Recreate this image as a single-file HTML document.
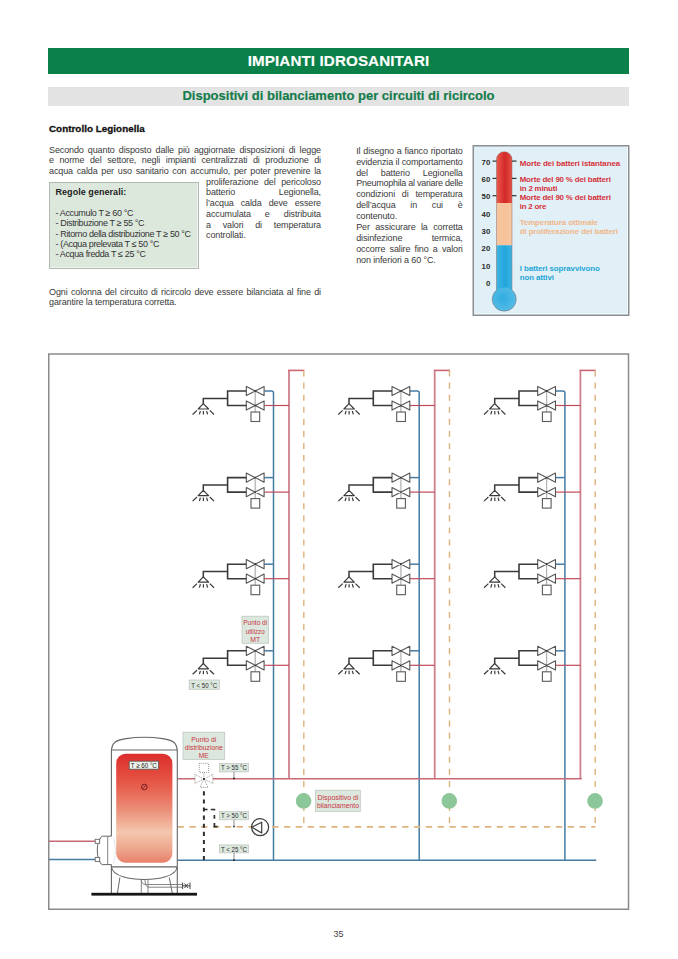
<!DOCTYPE html>
<html><head><meta charset="utf-8">
<style>
html,body{margin:0;padding:0;background:#fff;}
body{width:678px;height:959px;position:relative;overflow:hidden;font-family:"Liberation Sans",sans-serif;}
.a{position:absolute;white-space:nowrap;}
.bar1{position:absolute;left:48px;top:48px;width:581px;height:26px;background:#0b8048;}
.bar2{position:absolute;left:48px;top:87px;width:581px;height:19px;background:#e3e3e3;}
.t1{position:absolute;left:48px;width:581px;top:48px;height:26px;line-height:26px;text-align:center;color:#fff;font-weight:bold;font-size:15.2px;letter-spacing:0.1px;-webkit-text-stroke:0.15px #fff;}
.t2{position:absolute;left:48px;width:581px;top:85.8px;height:19px;line-height:19px;text-align:center;color:#157c4c;font-weight:bold;font-size:13px;-webkit-text-stroke:0.2px #157c4c;}
.body{font-size:9px;letter-spacing:-0.12px;color:#3a3a3a;line-height:9px;}
.j{text-align:justify;text-align-last:justify;}
.fut{font-size:9px;letter-spacing:-0.36px;color:#333;line-height:9px;}
</style></head>
<body>
<div class="bar1"></div>
<div class="bar2"></div>
<div class="t1">IMPIANTI IDROSANITARI</div>
<div class="t2">Dispositivi di bilanciamento per circuiti di ricircolo</div>

<div class="a" style="left:49px;top:124.3px;font-size:9.8px;font-weight:bold;color:#111;line-height:9.8px;-webkit-text-stroke:0.3px #111;letter-spacing:0.05px;">Controllo Legionella</div>

<div class="a body j" style="left:49px;top:145.6px;width:272px;">Secondo quanto disposto dalle più aggiornate disposizioni di legge</div>
<div class="a body j" style="left:49px;top:156.3px;width:272px;">e norme del settore, negli impianti centralizzati di produzione di</div>
<div class="a body j" style="left:49px;top:167.0px;width:272px;">acqua calda per uso sanitario con accumulo, per poter prevenire la</div>
<div class="a body j" style="left:206px;top:177.7px;width:115px;">proliferazione del pericoloso</div>
<div class="a body j" style="left:206px;top:188.4px;width:115px;">batterio Legionella,</div>
<div class="a body j" style="left:206px;top:199.1px;width:115px;">l’acqua calda deve essere</div>
<div class="a body j" style="left:206px;top:209.8px;width:115px;">accumulata e distribuita</div>
<div class="a body j" style="left:206px;top:220.5px;width:115px;">a valori di temperatura</div>
<div class="a body" style="left:206px;top:231.2px;">controllati.</div>
<div class="a body j" style="left:49px;top:287.5px;width:272px;">Ogni colonna del circuito di ricircolo deve essere bilanciata al fine di</div>
<div class="a body" style="left:49px;top:298.2px;">garantire la temperatura corretta.</div>
<div class="a body j" style="left:356.2px;top:146.8px;width:106.5px;">Il disegno a fianco riportato</div>
<div class="a body j" style="left:356.2px;top:157.7px;width:106.5px;">evidenzia il comportamento</div>
<div class="a body j" style="left:356.2px;top:168.5px;width:106.5px;">del batterio Legionella</div>
<div class="a body j" style="left:356.2px;top:179.4px;width:106.5px;letter-spacing:-0.25px;">Pneumophila al variare delle</div>
<div class="a body j" style="left:356.2px;top:190.3px;width:106.5px;">condizioni di temperatura</div>
<div class="a body j" style="left:356.2px;top:201.1px;width:106.5px;">dell’acqua in cui è</div>
<div class="a body" style="left:356.2px;top:212.0px;">contenuto.</div>
<div class="a body j" style="left:356.2px;top:222.9px;width:106.5px;">Per assicurare la corretta</div>
<div class="a body j" style="left:356.2px;top:233.8px;width:106.5px;">disinfezione termica,</div>
<div class="a body j" style="left:356.2px;top:244.6px;width:106.5px;">occorre salire fino a valori</div>
<div class="a body" style="left:356.2px;top:255.5px;">non inferiori a 60 °C.</div>


<div class="a" style="left:49px;top:182px;width:148px;height:85px;background:#dde8dd;border:1px solid #b3b8b3;box-shadow:inset -1px -1px 0 #eef3ee;"></div>
<div class="a" style="left:55.5px;top:188.4px;font-size:9px;font-weight:bold;color:#222;line-height:9px;letter-spacing:0.05px;">Regole generali:</div>
<div class="a fut" style="left:55.5px;top:209px;">- Accumulo T ≥ 60 °C</div>
<div class="a fut" style="left:55.5px;top:218.9px;">- Distribuzione T ≥ 55 °C</div>
<div class="a fut" style="left:55.5px;top:229.6px;">- Ritorno della distribuzione T ≥ 50 °C</div>
<div class="a fut" style="left:55.5px;top:240px;">- (Acqua prelevata T ≤ 50 °C</div>
<div class="a fut" style="left:55.5px;top:250.4px;">- Acqua fredda T ≤ 25 °C</div>

<svg class="a" style="left:0;top:0;" width="678" height="959" viewBox="0 0 678 959">
<defs>
<linearGradient id="gR" x1="0" x2="1" y1="0" y2="0"><stop offset="0" stop-color="#f08872"/><stop offset="0.22" stop-color="#e85a4a"/><stop offset="0.5" stop-color="#d42828"/><stop offset="0.78" stop-color="#e65a4a"/><stop offset="1" stop-color="#f08a76"/></linearGradient>
<linearGradient id="gP" x1="0" x2="1" y1="0" y2="0"><stop offset="0" stop-color="#f7c9a3"/><stop offset="0.5" stop-color="#f6c29a"/><stop offset="1" stop-color="#f8cfaa"/></linearGradient>
<linearGradient id="gB" x1="0" x2="1" y1="0" y2="0"><stop offset="0" stop-color="#58c0e6"/><stop offset="0.5" stop-color="#22a6dc"/><stop offset="1" stop-color="#5cc2e8"/></linearGradient>
<radialGradient id="gBulb" cx="0.45" cy="0.45" r="0.6"><stop offset="0" stop-color="#30ace0"/><stop offset="1" stop-color="#58bde6"/></radialGradient>
<clipPath id="tube"><path d="M496.5 159.5 A7.75 7.75 0 0 1 512 159.5 L512 290 A12 12 0 1 1 496.5 290 Z"/></clipPath>
</defs>
<rect x="473.25" y="145.75" width="155.5" height="169.5" fill="#e1f0f6" stroke="#8c8f92" stroke-width="1.5"/><path d="M474.5 313.6 H627.4 V147" fill="none" stroke="#f4fafc" stroke-width="0.9"/>
<g clip-path="url(#tube)">
<rect x="490" y="150" width="30" height="53" fill="url(#gR)"/>
<rect x="490" y="203" width="30" height="42.3" fill="url(#gP)"/>
<rect x="490" y="245.3" width="30" height="70" fill="url(#gB)"/>
<circle cx="504.25" cy="299.5" r="12" fill="url(#gBulb)"/>
</g>
<path d="M496.5 159.5 A7.75 7.75 0 0 1 512 159.5 L512 290 A12 12 0 1 1 496.5 290 Z" fill="none" stroke="#8a6a6a" stroke-width="0.7" opacity="0.7"/>
<g stroke="#333" stroke-width="1.2">
<line x1="492.5" y1="161.1" x2="496.5" y2="161.1"/><line x1="512" y1="161.1" x2="516.5" y2="161.1"/>
<line x1="492.5" y1="178.4" x2="496.5" y2="178.4"/><line x1="512" y1="178.4" x2="516.5" y2="178.4"/>
<line x1="492.5" y1="195.7" x2="496.5" y2="195.7"/><line x1="512" y1="195.7" x2="516.5" y2="195.7"/>
</g>
<g font-family="Liberation Sans" font-weight="bold" font-size="7.8" fill="#2a2a2a" text-anchor="end">
<text x="490.3" y="164.8">70</text><text x="490.3" y="182.1">60</text><text x="490.3" y="199.4">50</text>
<text x="490.3" y="216.7">40</text><text x="490.3" y="234.0">30</text><text x="490.3" y="251.4">20</text>
<text x="490.3" y="268.7">10</text><text x="490.3" y="286.0">0</text>
</g>
<g font-family="Liberation Sans" font-weight="bold" font-size="7.9">
<text x="519.7" y="165.6" fill="#d5303a" textLength="100.4" lengthAdjust="spacing">Morte dei batteri istantanea</text>
<text x="519.7" y="181.9" fill="#d5303a" textLength="91.2" lengthAdjust="spacing">Morte del 90 % dei batteri</text>
<text x="519.7" y="190.5" fill="#d5303a" textLength="37.7" lengthAdjust="spacing">in 2 minuti</text>
<text x="519.7" y="199.9" fill="#d5303a" textLength="91.2" lengthAdjust="spacing">Morte del 90 % dei batteri</text>
<text x="519.7" y="208.9" fill="#d5303a" textLength="26.6" lengthAdjust="spacing">in 2 ore</text>
<text x="519.7" y="225" fill="#f0b68a" textLength="78.3" lengthAdjust="spacing">Temperatura ottimale</text>
<text x="519.7" y="234.4" fill="#f0b68a" textLength="98.3" lengthAdjust="spacing">di proliferazione dei batteri</text>
<text x="519.7" y="270.7" fill="#25a6d6" textLength="80.2" lengthAdjust="spacing">I batteri sopravvivono</text>
<text x="519.7" y="279.6" fill="#25a6d6" textLength="34.2" lengthAdjust="spacing">non attivi</text>
</g>
<!--DIAGRAM-->
<rect x="48.75" y="354" width="579.75" height="555.25" fill="none" stroke="#8a8a8a" stroke-width="1.5"/>
<path d="M289.0 778.8 V370.4" fill="none" stroke="#d0808c" stroke-width="1.8"/>
<path d="M288.1 370.4 H304.3" fill="none" stroke="#c96874" stroke-width="1.6"/>
<path d="M303.8 370.5 V826.6" fill="none" stroke="#e0b47e" stroke-width="1.45" stroke-dasharray="6.1 5.97"/>
<path d="M264.3 391.0 H271.5 Q273.5 391 273.5 393 V860.2" transform="translate(0.0,0)" fill="none" stroke="#467ca4" stroke-width="1.5"/>
<g transform="translate(0.00,0.00)"><path d="M264.3 405.5 H289" stroke="#c04a5a" stroke-width="1.2"/><path d="M246.3 386.4 V395.6 L264.1 386.4 V395.6 Z M246.3 400.9 V410.1 L264.1 400.9 V410.1 Z" fill="#fff" stroke="#555" stroke-width="1.1" stroke-linejoin="round"/><path d="M255.2 391 V412" stroke="#b4b4b4" stroke-width="1.3"/><circle cx="255.2" cy="391" r="0.9" fill="#333"/><circle cx="255.2" cy="405.5" r="0.9" fill="#333"/><rect x="251" y="412" width="8.7" height="9.5" fill="#fff" stroke="#5a5a5a" stroke-width="1.1"/><path d="M246.3 391 H227.6 V405.5 H246.3" fill="none" stroke="#3a3a3a" stroke-width="1.6"/><path d="M227.6 398.4 H203.3 V403.7" fill="none" stroke="#3a3a3a" stroke-width="1.5"/><path d="M203.3 403.7 L198.2 409 H208.6 Z" fill="none" stroke="#3a3a3a" stroke-width="1.2" stroke-linejoin="round"/><path d="M197 410.4 L192.6 414.5 M209.8 410.4 L214 414.5 M200.4 411 L199.4 414.4 M203.4 411 V414.4 M206.6 411 L207.6 414.4" stroke="#3a3a3a" stroke-width="1.2"/></g>
<g transform="translate(0.00,86.60)"><path d="M264.3 391 H273.5" stroke="#467ca4" stroke-width="1.5"/><path d="M264.3 405.5 H289" stroke="#c04a5a" stroke-width="1.2"/><path d="M246.3 386.4 V395.6 L264.1 386.4 V395.6 Z M246.3 400.9 V410.1 L264.1 400.9 V410.1 Z" fill="#fff" stroke="#555" stroke-width="1.1" stroke-linejoin="round"/><path d="M255.2 391 V412" stroke="#b4b4b4" stroke-width="1.3"/><circle cx="255.2" cy="391" r="0.9" fill="#333"/><circle cx="255.2" cy="405.5" r="0.9" fill="#333"/><rect x="251" y="412" width="8.7" height="9.5" fill="#fff" stroke="#5a5a5a" stroke-width="1.1"/><path d="M246.3 391 H227.6 V405.5 H246.3" fill="none" stroke="#3a3a3a" stroke-width="1.6"/><path d="M227.6 398.4 H203.3 V403.7" fill="none" stroke="#3a3a3a" stroke-width="1.5"/><path d="M203.3 403.7 L198.2 409 H208.6 Z" fill="none" stroke="#3a3a3a" stroke-width="1.2" stroke-linejoin="round"/><path d="M197 410.4 L192.6 414.5 M209.8 410.4 L214 414.5 M200.4 411 L199.4 414.4 M203.4 411 V414.4 M206.6 411 L207.6 414.4" stroke="#3a3a3a" stroke-width="1.2"/></g>
<g transform="translate(0.00,173.20)"><path d="M264.3 391 H273.5" stroke="#467ca4" stroke-width="1.5"/><path d="M264.3 405.5 H289" stroke="#c04a5a" stroke-width="1.2"/><path d="M246.3 386.4 V395.6 L264.1 386.4 V395.6 Z M246.3 400.9 V410.1 L264.1 400.9 V410.1 Z" fill="#fff" stroke="#555" stroke-width="1.1" stroke-linejoin="round"/><path d="M255.2 391 V412" stroke="#b4b4b4" stroke-width="1.3"/><circle cx="255.2" cy="391" r="0.9" fill="#333"/><circle cx="255.2" cy="405.5" r="0.9" fill="#333"/><rect x="251" y="412" width="8.7" height="9.5" fill="#fff" stroke="#5a5a5a" stroke-width="1.1"/><path d="M246.3 391 H227.6 V405.5 H246.3" fill="none" stroke="#3a3a3a" stroke-width="1.6"/><path d="M227.6 398.4 H203.3 V403.7" fill="none" stroke="#3a3a3a" stroke-width="1.5"/><path d="M203.3 403.7 L198.2 409 H208.6 Z" fill="none" stroke="#3a3a3a" stroke-width="1.2" stroke-linejoin="round"/><path d="M197 410.4 L192.6 414.5 M209.8 410.4 L214 414.5 M200.4 411 L199.4 414.4 M203.4 411 V414.4 M206.6 411 L207.6 414.4" stroke="#3a3a3a" stroke-width="1.2"/></g>
<g transform="translate(0.00,259.80)"><path d="M264.3 391 H273.5" stroke="#467ca4" stroke-width="1.5"/><path d="M264.3 405.5 H289" stroke="#c04a5a" stroke-width="1.2"/><path d="M246.3 386.4 V395.6 L264.1 386.4 V395.6 Z M246.3 400.9 V410.1 L264.1 400.9 V410.1 Z" fill="#fff" stroke="#555" stroke-width="1.1" stroke-linejoin="round"/><path d="M255.2 391 V412" stroke="#b4b4b4" stroke-width="1.3"/><circle cx="255.2" cy="391" r="0.9" fill="#333"/><circle cx="255.2" cy="405.5" r="0.9" fill="#333"/><rect x="251" y="412" width="8.7" height="9.5" fill="#fff" stroke="#5a5a5a" stroke-width="1.1"/><path d="M246.3 391 H227.6 V405.5 H246.3" fill="none" stroke="#3a3a3a" stroke-width="1.6"/><path d="M227.6 398.4 H203.3 V403.7" fill="none" stroke="#3a3a3a" stroke-width="1.5"/><path d="M203.3 403.7 L198.2 409 H208.6 Z" fill="none" stroke="#3a3a3a" stroke-width="1.2" stroke-linejoin="round"/><path d="M197 410.4 L192.6 414.5 M209.8 410.4 L214 414.5 M200.4 411 L199.4 414.4 M203.4 411 V414.4 M206.6 411 L207.6 414.4" stroke="#3a3a3a" stroke-width="1.2"/></g>
<path d="M434.7 778.8 V370.4" fill="none" stroke="#d0808c" stroke-width="1.8"/>
<path d="M433.8 370.4 H450.0" fill="none" stroke="#c96874" stroke-width="1.6"/>
<path d="M449.5 370.5 V826.6" fill="none" stroke="#e0b47e" stroke-width="1.45" stroke-dasharray="6.1 5.97"/>
<path d="M264.3 391.0 H271.5 Q273.5 391 273.5 393 V860.2" transform="translate(145.7,0)" fill="none" stroke="#467ca4" stroke-width="1.5"/>
<g transform="translate(145.70,0.00)"><path d="M264.3 405.5 H289" stroke="#c04a5a" stroke-width="1.2"/><path d="M246.3 386.4 V395.6 L264.1 386.4 V395.6 Z M246.3 400.9 V410.1 L264.1 400.9 V410.1 Z" fill="#fff" stroke="#555" stroke-width="1.1" stroke-linejoin="round"/><path d="M255.2 391 V412" stroke="#b4b4b4" stroke-width="1.3"/><circle cx="255.2" cy="391" r="0.9" fill="#333"/><circle cx="255.2" cy="405.5" r="0.9" fill="#333"/><rect x="251" y="412" width="8.7" height="9.5" fill="#fff" stroke="#5a5a5a" stroke-width="1.1"/><path d="M246.3 391 H227.6 V405.5 H246.3" fill="none" stroke="#3a3a3a" stroke-width="1.6"/><path d="M227.6 398.4 H203.3 V403.7" fill="none" stroke="#3a3a3a" stroke-width="1.5"/><path d="M203.3 403.7 L198.2 409 H208.6 Z" fill="none" stroke="#3a3a3a" stroke-width="1.2" stroke-linejoin="round"/><path d="M197 410.4 L192.6 414.5 M209.8 410.4 L214 414.5 M200.4 411 L199.4 414.4 M203.4 411 V414.4 M206.6 411 L207.6 414.4" stroke="#3a3a3a" stroke-width="1.2"/></g>
<g transform="translate(145.70,86.60)"><path d="M264.3 391 H273.5" stroke="#467ca4" stroke-width="1.5"/><path d="M264.3 405.5 H289" stroke="#c04a5a" stroke-width="1.2"/><path d="M246.3 386.4 V395.6 L264.1 386.4 V395.6 Z M246.3 400.9 V410.1 L264.1 400.9 V410.1 Z" fill="#fff" stroke="#555" stroke-width="1.1" stroke-linejoin="round"/><path d="M255.2 391 V412" stroke="#b4b4b4" stroke-width="1.3"/><circle cx="255.2" cy="391" r="0.9" fill="#333"/><circle cx="255.2" cy="405.5" r="0.9" fill="#333"/><rect x="251" y="412" width="8.7" height="9.5" fill="#fff" stroke="#5a5a5a" stroke-width="1.1"/><path d="M246.3 391 H227.6 V405.5 H246.3" fill="none" stroke="#3a3a3a" stroke-width="1.6"/><path d="M227.6 398.4 H203.3 V403.7" fill="none" stroke="#3a3a3a" stroke-width="1.5"/><path d="M203.3 403.7 L198.2 409 H208.6 Z" fill="none" stroke="#3a3a3a" stroke-width="1.2" stroke-linejoin="round"/><path d="M197 410.4 L192.6 414.5 M209.8 410.4 L214 414.5 M200.4 411 L199.4 414.4 M203.4 411 V414.4 M206.6 411 L207.6 414.4" stroke="#3a3a3a" stroke-width="1.2"/></g>
<g transform="translate(145.70,173.20)"><path d="M264.3 391 H273.5" stroke="#467ca4" stroke-width="1.5"/><path d="M264.3 405.5 H289" stroke="#c04a5a" stroke-width="1.2"/><path d="M246.3 386.4 V395.6 L264.1 386.4 V395.6 Z M246.3 400.9 V410.1 L264.1 400.9 V410.1 Z" fill="#fff" stroke="#555" stroke-width="1.1" stroke-linejoin="round"/><path d="M255.2 391 V412" stroke="#b4b4b4" stroke-width="1.3"/><circle cx="255.2" cy="391" r="0.9" fill="#333"/><circle cx="255.2" cy="405.5" r="0.9" fill="#333"/><rect x="251" y="412" width="8.7" height="9.5" fill="#fff" stroke="#5a5a5a" stroke-width="1.1"/><path d="M246.3 391 H227.6 V405.5 H246.3" fill="none" stroke="#3a3a3a" stroke-width="1.6"/><path d="M227.6 398.4 H203.3 V403.7" fill="none" stroke="#3a3a3a" stroke-width="1.5"/><path d="M203.3 403.7 L198.2 409 H208.6 Z" fill="none" stroke="#3a3a3a" stroke-width="1.2" stroke-linejoin="round"/><path d="M197 410.4 L192.6 414.5 M209.8 410.4 L214 414.5 M200.4 411 L199.4 414.4 M203.4 411 V414.4 M206.6 411 L207.6 414.4" stroke="#3a3a3a" stroke-width="1.2"/></g>
<g transform="translate(145.70,259.80)"><path d="M264.3 391 H273.5" stroke="#467ca4" stroke-width="1.5"/><path d="M264.3 405.5 H289" stroke="#c04a5a" stroke-width="1.2"/><path d="M246.3 386.4 V395.6 L264.1 386.4 V395.6 Z M246.3 400.9 V410.1 L264.1 400.9 V410.1 Z" fill="#fff" stroke="#555" stroke-width="1.1" stroke-linejoin="round"/><path d="M255.2 391 V412" stroke="#b4b4b4" stroke-width="1.3"/><circle cx="255.2" cy="391" r="0.9" fill="#333"/><circle cx="255.2" cy="405.5" r="0.9" fill="#333"/><rect x="251" y="412" width="8.7" height="9.5" fill="#fff" stroke="#5a5a5a" stroke-width="1.1"/><path d="M246.3 391 H227.6 V405.5 H246.3" fill="none" stroke="#3a3a3a" stroke-width="1.6"/><path d="M227.6 398.4 H203.3 V403.7" fill="none" stroke="#3a3a3a" stroke-width="1.5"/><path d="M203.3 403.7 L198.2 409 H208.6 Z" fill="none" stroke="#3a3a3a" stroke-width="1.2" stroke-linejoin="round"/><path d="M197 410.4 L192.6 414.5 M209.8 410.4 L214 414.5 M200.4 411 L199.4 414.4 M203.4 411 V414.4 M206.6 411 L207.6 414.4" stroke="#3a3a3a" stroke-width="1.2"/></g>
<path d="M580.4 778.8 V370.4" fill="none" stroke="#d0808c" stroke-width="1.8"/>
<path d="M579.5 370.4 H595.7" fill="none" stroke="#c96874" stroke-width="1.6"/>
<path d="M595.2 370.5 V826.6" fill="none" stroke="#e0b47e" stroke-width="1.45" stroke-dasharray="6.1 5.97"/>
<path d="M264.3 391.0 H271.5 Q273.5 391 273.5 393 V860.2" transform="translate(291.4,0)" fill="none" stroke="#467ca4" stroke-width="1.5"/>
<g transform="translate(291.40,0.00)"><path d="M264.3 405.5 H289" stroke="#c04a5a" stroke-width="1.2"/><path d="M246.3 386.4 V395.6 L264.1 386.4 V395.6 Z M246.3 400.9 V410.1 L264.1 400.9 V410.1 Z" fill="#fff" stroke="#555" stroke-width="1.1" stroke-linejoin="round"/><path d="M255.2 391 V412" stroke="#b4b4b4" stroke-width="1.3"/><circle cx="255.2" cy="391" r="0.9" fill="#333"/><circle cx="255.2" cy="405.5" r="0.9" fill="#333"/><rect x="251" y="412" width="8.7" height="9.5" fill="#fff" stroke="#5a5a5a" stroke-width="1.1"/><path d="M246.3 391 H227.6 V405.5 H246.3" fill="none" stroke="#3a3a3a" stroke-width="1.6"/><path d="M227.6 398.4 H203.3 V403.7" fill="none" stroke="#3a3a3a" stroke-width="1.5"/><path d="M203.3 403.7 L198.2 409 H208.6 Z" fill="none" stroke="#3a3a3a" stroke-width="1.2" stroke-linejoin="round"/><path d="M197 410.4 L192.6 414.5 M209.8 410.4 L214 414.5 M200.4 411 L199.4 414.4 M203.4 411 V414.4 M206.6 411 L207.6 414.4" stroke="#3a3a3a" stroke-width="1.2"/></g>
<g transform="translate(291.40,86.60)"><path d="M264.3 391 H273.5" stroke="#467ca4" stroke-width="1.5"/><path d="M264.3 405.5 H289" stroke="#c04a5a" stroke-width="1.2"/><path d="M246.3 386.4 V395.6 L264.1 386.4 V395.6 Z M246.3 400.9 V410.1 L264.1 400.9 V410.1 Z" fill="#fff" stroke="#555" stroke-width="1.1" stroke-linejoin="round"/><path d="M255.2 391 V412" stroke="#b4b4b4" stroke-width="1.3"/><circle cx="255.2" cy="391" r="0.9" fill="#333"/><circle cx="255.2" cy="405.5" r="0.9" fill="#333"/><rect x="251" y="412" width="8.7" height="9.5" fill="#fff" stroke="#5a5a5a" stroke-width="1.1"/><path d="M246.3 391 H227.6 V405.5 H246.3" fill="none" stroke="#3a3a3a" stroke-width="1.6"/><path d="M227.6 398.4 H203.3 V403.7" fill="none" stroke="#3a3a3a" stroke-width="1.5"/><path d="M203.3 403.7 L198.2 409 H208.6 Z" fill="none" stroke="#3a3a3a" stroke-width="1.2" stroke-linejoin="round"/><path d="M197 410.4 L192.6 414.5 M209.8 410.4 L214 414.5 M200.4 411 L199.4 414.4 M203.4 411 V414.4 M206.6 411 L207.6 414.4" stroke="#3a3a3a" stroke-width="1.2"/></g>
<g transform="translate(291.40,173.20)"><path d="M264.3 391 H273.5" stroke="#467ca4" stroke-width="1.5"/><path d="M264.3 405.5 H289" stroke="#c04a5a" stroke-width="1.2"/><path d="M246.3 386.4 V395.6 L264.1 386.4 V395.6 Z M246.3 400.9 V410.1 L264.1 400.9 V410.1 Z" fill="#fff" stroke="#555" stroke-width="1.1" stroke-linejoin="round"/><path d="M255.2 391 V412" stroke="#b4b4b4" stroke-width="1.3"/><circle cx="255.2" cy="391" r="0.9" fill="#333"/><circle cx="255.2" cy="405.5" r="0.9" fill="#333"/><rect x="251" y="412" width="8.7" height="9.5" fill="#fff" stroke="#5a5a5a" stroke-width="1.1"/><path d="M246.3 391 H227.6 V405.5 H246.3" fill="none" stroke="#3a3a3a" stroke-width="1.6"/><path d="M227.6 398.4 H203.3 V403.7" fill="none" stroke="#3a3a3a" stroke-width="1.5"/><path d="M203.3 403.7 L198.2 409 H208.6 Z" fill="none" stroke="#3a3a3a" stroke-width="1.2" stroke-linejoin="round"/><path d="M197 410.4 L192.6 414.5 M209.8 410.4 L214 414.5 M200.4 411 L199.4 414.4 M203.4 411 V414.4 M206.6 411 L207.6 414.4" stroke="#3a3a3a" stroke-width="1.2"/></g>
<g transform="translate(291.40,259.80)"><path d="M264.3 391 H273.5" stroke="#467ca4" stroke-width="1.5"/><path d="M264.3 405.5 H289" stroke="#c04a5a" stroke-width="1.2"/><path d="M246.3 386.4 V395.6 L264.1 386.4 V395.6 Z M246.3 400.9 V410.1 L264.1 400.9 V410.1 Z" fill="#fff" stroke="#555" stroke-width="1.1" stroke-linejoin="round"/><path d="M255.2 391 V412" stroke="#b4b4b4" stroke-width="1.3"/><circle cx="255.2" cy="391" r="0.9" fill="#333"/><circle cx="255.2" cy="405.5" r="0.9" fill="#333"/><rect x="251" y="412" width="8.7" height="9.5" fill="#fff" stroke="#5a5a5a" stroke-width="1.1"/><path d="M246.3 391 H227.6 V405.5 H246.3" fill="none" stroke="#3a3a3a" stroke-width="1.6"/><path d="M227.6 398.4 H203.3 V403.7" fill="none" stroke="#3a3a3a" stroke-width="1.5"/><path d="M203.3 403.7 L198.2 409 H208.6 Z" fill="none" stroke="#3a3a3a" stroke-width="1.2" stroke-linejoin="round"/><path d="M197 410.4 L192.6 414.5 M209.8 410.4 L214 414.5 M200.4 411 L199.4 414.4 M203.4 411 V414.4 M206.6 411 L207.6 414.4" stroke="#3a3a3a" stroke-width="1.2"/></g>
<path d="M177.4 778.8 H195 M212.8 778.8 H581.8" stroke="#c96874" stroke-width="1.6"/>
<path d="M177.4 860.2 H596.3" stroke="#467ca4" stroke-width="1.6"/>
<path d="M177.6 826.8 H595.3" stroke="#e0b47e" stroke-width="1.7" stroke-dasharray="6.3 5.52"/>
<path d="M49 841.2 H95.2" stroke="#c96874" stroke-width="1.5"/>
<path d="M49 859.5 H95.2" stroke="#467ca4" stroke-width="1.5"/>
<circle cx="303.6" cy="800.9" r="7.8" fill="#8cc79a"/>
<circle cx="449.3" cy="800.9" r="7.8" fill="#8cc79a"/>
<circle cx="595.0" cy="800.9" r="7.8" fill="#8cc79a"/>
<path d="M111.4 836.2 V752 C111.4 742.5 116 740 126 738.6 Q144.3 736 162.7 738.6 C172.7 740 177.3 742.5 177.3 752 V893.6" fill="#fff" stroke="#666" stroke-width="1.1"/>
<path d="M111.4 750 H177.3" stroke="#666" stroke-width="1.1"/>
<path d="M111.4 864.6 V893.6" stroke="#666" stroke-width="1.1"/>
<defs><linearGradient id="gT" x1="0" x2="0" y1="0" y2="1"><stop offset="0" stop-color="#dc2e2e"/><stop offset="0.2" stop-color="#e44c3e"/><stop offset="0.33" stop-color="#e76452"/><stop offset="0.52" stop-color="#eb907a"/><stop offset="0.72" stop-color="#f4c6ae"/><stop offset="0.86" stop-color="#eeaa90"/><stop offset="1" stop-color="#e8806a"/></linearGradient></defs>
<rect x="116.2" y="753.8" width="56.2" height="108.9" rx="9.5" ry="9.5" fill="url(#gT)"/>
<rect x="129.2" y="761.2" width="29.3" height="8" fill="#eef2ec" stroke="#555" stroke-width="0.8"/>
<text x="143.85" y="767.9" text-anchor="middle" font-family="Liberation Sans" font-size="7.4" fill="#222" textLength="26" lengthAdjust="spacingAndGlyphs">T ≥ 60 °C</text>
<circle cx="144.3" cy="787" r="2.8" fill="none" stroke="#7a2020" stroke-width="1"/><path d="M142.5 788.8 L146.1 785.2" stroke="#7a2020" stroke-width="0.9"/>
<path d="M111.4 866.9 H177.3" stroke="#666" stroke-width="1.1"/>
<path d="M111.4 867 C113 876.5 130 879.5 144.3 879.5 C158.6 879.5 175.6 876.5 177.3 867" fill="none" stroke="#666" stroke-width="1.1"/>
<path d="M119.9 877.5 L117.4 893.3 M169.3 877.5 L172.3 893.3" stroke="#666" stroke-width="1"/>
<path d="M141.3 879.5 V893.3 M148 880 V893.3" stroke="#777" stroke-width="0.9"/>
<path d="M141.3 879.5 Q141.3 884.5 146 884.5 H182.6 M145 879.8 Q145 887.2 149 887.2 H182.6" fill="none" stroke="#777" stroke-width="0.9"/>
<path d="M182.6 882.6 V889 M190 882.6 V889 M182.6 885.8 H190" stroke="#444" stroke-width="1"/><path d="M184.5 883.5 L188 888 M188 883.5 L184.5 888" stroke="#444" stroke-width="1"/>
<rect x="91.4" y="892.8" width="105.6" height="2.8" fill="#151515"/>
<path d="M111.4 836.2 H102.3 Q100.5 836.8 99.7 839.4 Q96.6 846 97.3 850 Q96.8 856 99.7 861.5 Q100.5 864 102.3 864.6 H111.4" fill="#fff" stroke="#666" stroke-width="1"/>
<path d="M107.7 836.4 V864.4" stroke="#777" stroke-width="0.9"/>
<rect x="95.2" y="839.3" width="4.5" height="4" fill="#fff" stroke="#666" stroke-width="0.9"/><rect x="95.2" y="857.4" width="4.5" height="4" fill="#fff" stroke="#666" stroke-width="0.9"/>
<path d="M113.5 838 Q117 850 113.5 864" fill="none" stroke="#aaa" stroke-width="0.6" stroke-dasharray="1 1"/>
<g fill="none" stroke="#555" stroke-width="0.8" stroke-dasharray="1 1" opacity="0.75"><path d="M203.9 779 L194.9 774.4 V783.4 Z M203.9 779 L212.8 774.4 V783.4 Z M203.9 779 L200 787.4 H208.1 Z"/><rect x="199.3" y="763.3" width="9.3" height="9.1"/><path d="M203.9 772.4 V779"/></g>
<circle cx="203.9" cy="779" r="1.1" fill="#222"/>
<path d="M203.9 791.3 V860" stroke="#2e2e2e" stroke-width="2" stroke-dasharray="4.1 4"/>
<path d="M204 809.5 H207.5 M210.8 809.5 H214.4 V810.5 M214.4 815 V818.8 M214.4 823 V826.7 H217.5" fill="none" stroke="#2e2e2e" stroke-width="1.7"/>
<circle cx="260.1" cy="827.2" r="8.5" fill="#fff" stroke="#3a3a3a" stroke-width="1.2"/>
<path d="M251.8 827.2 L261.7 822.2 V833 Z" fill="none" stroke="#3a3a3a" stroke-width="1.2" stroke-linejoin="round"/>
<rect x="219.4" y="763.5" width="29.2" height="8.4" fill="#dce8de" stroke="#b9c2bb" stroke-width="0.7"/>
<rect x="219.4" y="811.6" width="29.2" height="8.2" fill="#dce8de" stroke="#b9c2bb" stroke-width="0.7"/>
<rect x="219.4" y="844.9" width="29.2" height="8.0" fill="#dce8de" stroke="#b9c2bb" stroke-width="0.7"/>
<rect x="189.2" y="680" width="30.1" height="9.3" fill="#dce8de" stroke="#b9c2bb" stroke-width="0.7"/>
<path d="M234 778.5 V771.9" stroke="#444" stroke-width="0.6"/><circle cx="234" cy="778.5" r="0.9" fill="#222"/>
<path d="M234 826.6 V819.8" stroke="#444" stroke-width="0.6"/><circle cx="234" cy="826.6" r="0.9" fill="#222"/>
<path d="M234 860.2 V852.9" stroke="#444" stroke-width="0.6"/><circle cx="234" cy="860.2" r="0.9" fill="#222"/>
<text font-family="Liberation Sans" font-size="7.2" fill="#2a2a2a" text-anchor="middle" lengthAdjust="spacingAndGlyphs" x="234" y="770.2" textLength="26">T > 55 °C</text>
<text font-family="Liberation Sans" font-size="7.2" fill="#2a2a2a" text-anchor="middle" lengthAdjust="spacingAndGlyphs" x="234" y="818.3" textLength="26">T > 50 °C</text>
<text font-family="Liberation Sans" font-size="7.2" fill="#2a2a2a" text-anchor="middle" lengthAdjust="spacingAndGlyphs" x="234" y="851.5" textLength="26">T &lt; 25 °C</text>
<text font-family="Liberation Sans" font-size="7.2" fill="#2a2a2a" text-anchor="middle" lengthAdjust="spacingAndGlyphs" x="204.2" y="687.9" textLength="26">T &lt; 50 °C</text>
<rect x="183" y="732.2" width="41.7" height="27.4" fill="#dce8de" stroke="#b9c2bb" stroke-width="0.7"/>
<rect x="242" y="616.2" width="26.5" height="27.1" fill="#dce8de" stroke="#b9c2bb" stroke-width="0.7"/>
<rect x="315.6" y="790.2" width="44.7" height="21.2" fill="#dce8de" stroke="#b9c2bb" stroke-width="0.7"/>
<text font-family="Liberation Sans" font-size="7.6" fill="#c9343f" text-anchor="middle" lengthAdjust="spacingAndGlyphs" x="203.8" y="741.6" textLength="25">Punto di</text>
<text font-family="Liberation Sans" font-size="7.6" fill="#c9343f" text-anchor="middle" lengthAdjust="spacingAndGlyphs" x="203.8" y="749.8" textLength="38">distribuzione</text>
<text font-family="Liberation Sans" font-size="7.6" fill="#c9343f" text-anchor="middle" lengthAdjust="spacingAndGlyphs" x="203.8" y="758" textLength="10">ME</text>
<text font-family="Liberation Sans" font-size="7.6" fill="#c9343f" text-anchor="middle" lengthAdjust="spacingAndGlyphs" x="255.2" y="625.3" textLength="24">Punto di</text>
<text font-family="Liberation Sans" font-size="7.6" fill="#c9343f" text-anchor="middle" lengthAdjust="spacingAndGlyphs" x="255.2" y="633.5" textLength="19">utilizzo</text>
<text font-family="Liberation Sans" font-size="7.6" fill="#c9343f" text-anchor="middle" lengthAdjust="spacingAndGlyphs" x="255.2" y="641.7" textLength="10">MT</text>
<text font-family="Liberation Sans" font-size="7.6" fill="#c9343f" text-anchor="middle" lengthAdjust="spacingAndGlyphs" x="338" y="799.8" textLength="41">Dispositivo di</text>
<text font-family="Liberation Sans" font-size="7.6" fill="#c9343f" text-anchor="middle" lengthAdjust="spacingAndGlyphs" x="338" y="808.2" textLength="42">bilanciamento</text>
<!--/DIAGRAM-->
</svg>
<div class="a" style="left:333.5px;top:929.5px;font-size:9px;color:#444;line-height:9px;">35</div>

</body></html>
